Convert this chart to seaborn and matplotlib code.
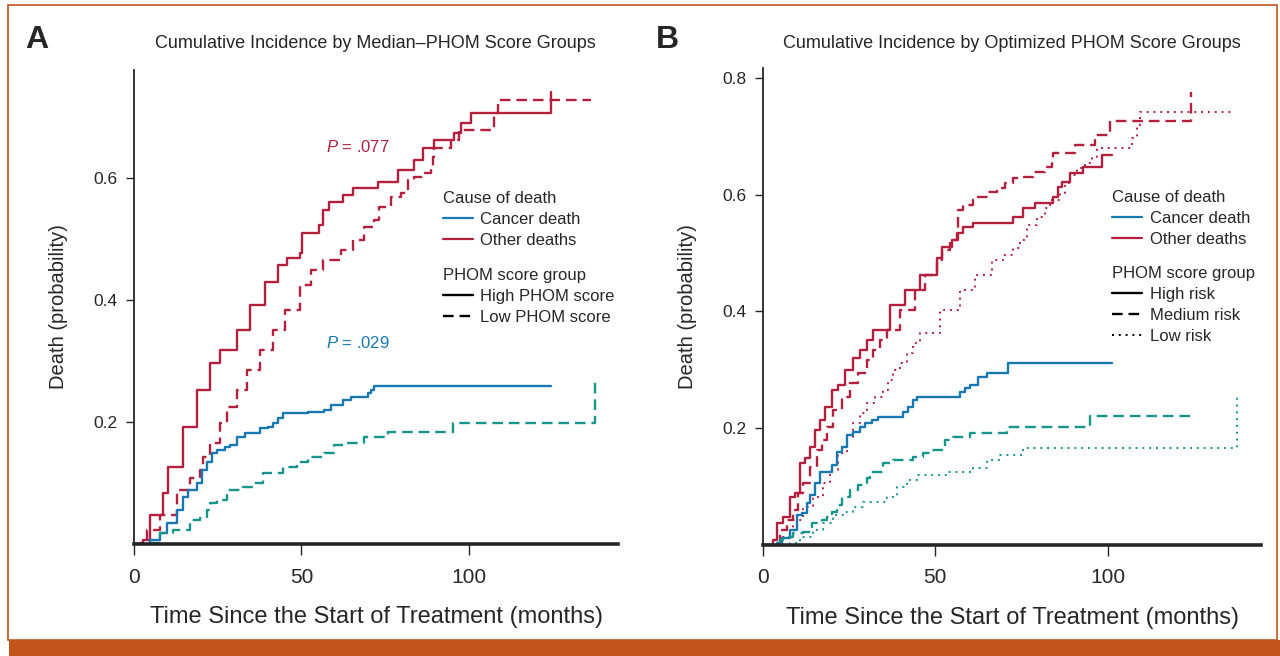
import matplotlib
matplotlib.use("Agg")
import matplotlib.pyplot as plt
from matplotlib.lines import Line2D
from matplotlib.patches import Rectangle
import seaborn as sns
import pandas as pd

sns.set_style("ticks")
plt.rcParams["font.family"] = ["Liberation Sans", "DejaVu Sans"]
plt.rcParams["mathtext.fontset"] = "custom"
plt.rcParams["mathtext.it"] = "Liberation Sans:italic"
plt.rcParams["mathtext.rm"] = "Liberation Sans"
NARROW = ["Liberation Sans Narrow", "Liberation Sans", "DejaVu Sans"]

RED = "#B41F3D"
BLUE = "#1778B3"
TEAL = "#16958A"
ORANGE = "#C4541E"

# ---- Panel A: median PHOM score groups ----
a_other_high_t = [0, 2.7, 4.8, 8.7, 10.2, 14.7, 18.9, 22.8, 25.7, 30.8, 34.7, 39.2, 43.1,
                  45.8, 49.7, 50.3, 55.1, 56.3, 58.1, 62.3, 65.3, 72.8, 78.7, 83.5, 86.2,
                  89.5, 95.5, 97.6, 100.6, 124.5, 124.6]
a_other_high_p = [0, 0.007, 0.048, 0.084, 0.126, 0.192, 0.252, 0.297, 0.318, 0.351, 0.392, 0.43, 0.457,
                  0.469, 0.477, 0.51, 0.523, 0.548, 0.561, 0.572, 0.584, 0.593, 0.613, 0.63, 0.649,
                  0.662, 0.674, 0.69, 0.707, 0.707, 0.741]

a_other_low_t = [0, 1.8, 3.9, 7.8, 12.9, 16.8, 19.8, 20.7, 22.8, 25.7, 27.8, 30.8, 33.8, 37.7,
                 41.6, 45.2, 49.7, 52.7, 56.3, 61.7, 65.3, 68.6, 71.6, 73.1, 76.6, 79.6, 81.7,
                 83.5, 86.5, 88.6, 89.2, 89.5, 94.6, 97.0, 107.5, 108.7, 136.5]
a_other_low_p = [0, 0.002, 0.023, 0.048, 0.089, 0.108, 0.121, 0.143, 0.166, 0.198, 0.225, 0.252, 0.285, 0.318,
                 0.351, 0.384, 0.425, 0.449, 0.466, 0.482, 0.498, 0.52, 0.531, 0.552, 0.569, 0.575, 0.597,
                 0.602, 0.608, 0.618, 0.634, 0.649, 0.662, 0.679, 0.707, 0.728, 0.728]

a_cancer_high_t = [0, 4.8, 7.8, 9.9, 12.9, 14.7, 16.2, 18.9, 20.4, 21.9, 23.4, 24.9, 27.2, 28.7,
                   30.8, 33.2, 37.7, 40.1, 41.6, 43.1, 44.6, 51.8, 56.6, 58.7, 62.3, 64.7, 69.8,
                   70.7, 71.6, 124.6]
a_cancer_high_p = [0, 0.007, 0.018, 0.034, 0.056, 0.077, 0.089, 0.1, 0.121, 0.134, 0.149, 0.154, 0.159, 0.162,
                   0.175, 0.182, 0.19, 0.192, 0.198, 0.207, 0.215, 0.216, 0.22, 0.228, 0.236, 0.241, 0.248,
                   0.252, 0.259, 0.259]

a_cancer_low_t = [0, 3.9, 7.8, 11.7, 16.8, 19.8, 21.9, 22.8, 24.9, 27.8, 32.6, 35.6, 38.6, 44.6,
                  48.8, 51.8, 56.6, 59.6, 62.6, 68.6, 75.7, 95.2, 137.4, 137.6]
a_cancer_low_p = [0, 0.002, 0.018, 0.023, 0.039, 0.043, 0.056, 0.067, 0.072, 0.089, 0.093, 0.1, 0.116, 0.126,
                  0.134, 0.143, 0.149, 0.162, 0.166, 0.175, 0.184, 0.198, 0.198, 0.274]

# ---- Panel B: optimized PHOM score groups ----
b_other_high_t = [0, 2.9, 4.1, 5.8, 7.8, 9.3, 10.7, 12.2, 13.6, 15.1, 16.5, 18.0, 20.0, 21.7, 23.8,
                  26.1, 28.1, 30.1, 31.9, 36.8, 41.2, 45.5, 50.4, 51.9, 54.8, 56.2, 58.0, 60.9,
                  72.5, 75.4, 78.8, 84.1, 85.5, 86.7, 89.0, 92.8, 98.3, 101.4]
b_other_high_p = [0, 0.008, 0.037, 0.047, 0.082, 0.088, 0.14, 0.149, 0.167, 0.197, 0.214, 0.236, 0.265, 0.274, 0.3,
                  0.32, 0.334, 0.351, 0.369, 0.411, 0.437, 0.463, 0.492, 0.511, 0.523, 0.535, 0.545, 0.552,
                  0.562, 0.578, 0.586, 0.597, 0.614, 0.622, 0.638, 0.648, 0.669, 0.669]

b_other_med_t = [0, 3.5, 4.9, 7.0, 8.7, 10.1, 11.6, 13.6, 15.7, 17.1, 18.6, 20.3, 22.9, 25.2, 27.5,
                 30.1, 31.9, 33.9, 35.9, 39.7, 44.1, 47.0, 50.4, 51.9, 54.2, 56.5, 58.0, 60.9, 62.3,
                 65.2, 67.8, 70.1, 72.5, 75.4, 78.3, 81.7, 83.8, 84.1, 90.4, 96.2, 100.6, 124.1, 124.3]
b_other_med_p = [0, 0.003, 0.025, 0.042, 0.059, 0.088, 0.106, 0.133, 0.162, 0.179, 0.202, 0.231, 0.253, 0.277, 0.295,
                 0.317, 0.334, 0.351, 0.369, 0.403, 0.437, 0.463, 0.489, 0.506, 0.523, 0.575, 0.583, 0.592, 0.597,
                 0.605, 0.612, 0.621, 0.629, 0.631, 0.64, 0.648, 0.664, 0.672, 0.686, 0.703, 0.727, 0.727, 0.777]

b_other_low_t = [0, 4.9, 8.7, 11.6, 14.5, 17.4, 19.4, 21.7, 24.3, 26.1, 28.1, 30.1, 32.5, 34.8, 36.2,
                 37.7, 39.7, 41.7, 43.5, 45.5, 51.3, 57.1, 61.4, 66.4, 69.6, 72.5, 74.5, 76.5, 79.4,
                 81.7, 83.2, 86.1, 87.5, 89.0, 91.0, 93.3, 95.4, 96.8, 107.2, 108.4, 109.3, 136.2]
b_other_low_p = [0, 0.013, 0.042, 0.064, 0.082, 0.106, 0.128, 0.157, 0.185, 0.209, 0.226, 0.243, 0.253, 0.265, 0.283,
                 0.3, 0.312, 0.329, 0.346, 0.363, 0.403, 0.437, 0.463, 0.489, 0.497, 0.509, 0.523, 0.549, 0.562,
                 0.578, 0.592, 0.603, 0.621, 0.634, 0.646, 0.655, 0.664, 0.681, 0.698, 0.717, 0.742, 0.742]

b_cancer_high_t = [0, 4.1, 5.5, 7.8, 9.9, 11.3, 12.8, 13.6, 15.1, 16.5, 20.0, 21.4, 22.9, 24.3, 26.1,
                   28.1, 29.6, 31.6, 33.3, 40.6, 42.0, 43.5, 44.6, 57.1, 58.6, 60.0, 62.3, 64.9, 71.0, 101.4]
b_cancer_high_p = [0, 0.003, 0.011, 0.025, 0.051, 0.054, 0.071, 0.085, 0.106, 0.124, 0.136, 0.159, 0.167, 0.188, 0.193,
                   0.202, 0.209, 0.214, 0.219, 0.228, 0.236, 0.248, 0.253, 0.262, 0.269, 0.274, 0.288, 0.295, 0.312, 0.312]

b_cancer_med_t = [0, 4.9, 5.8, 8.7, 11.6, 14.2, 17.1, 18.6, 20.0, 21.4, 22.9, 25.2, 27.5, 30.1, 31.0,
                  34.8, 37.7, 43.5, 46.4, 49.0, 51.9, 52.8, 55.1, 60.0, 70.7, 94.8, 123.8]
b_cancer_med_p = [0, 0.008, 0.013, 0.02, 0.021, 0.037, 0.042, 0.047, 0.056, 0.068, 0.082, 0.094, 0.102, 0.114, 0.124,
                  0.14, 0.145, 0.15, 0.157, 0.162, 0.167, 0.179, 0.185, 0.192, 0.202, 0.221, 0.221]

b_cancer_low_t = [0, 7.8, 10.7, 14.5, 17.4, 20.3, 23.2, 26.1, 29.0, 35.9, 38.8, 41.7, 44.6, 53.3,
                  60.9, 64.9, 68.7, 75.4, 137.4, 137.6]
b_cancer_low_p = [0, 0.003, 0.013, 0.025, 0.037, 0.051, 0.056, 0.064, 0.073, 0.082, 0.099, 0.111, 0.119, 0.124,
                  0.131, 0.145, 0.154, 0.166, 0.166, 0.253]

SOLID = dict(lw=1.7, linestyle="-")
DASHED = dict(lw=1.7, linestyle=(0, (4.5, 2.5)))
DOTTED = dict(lw=1.4, linestyle=(0, (1, 2.5)))


def step(ax, t, p, color, style):
    df = pd.DataFrame({"time": t, "prob": p})
    sns.lineplot(data=df, x="time", y="prob", ax=ax, color=color,
                 drawstyle="steps-post", estimator=None, sort=False, **style)


def style_axis(ax, ymax, yticks):
    ax.set_xlim(0, 144.5)
    ax.set_ylim(0, ymax)
    ax.set_xticks([0, 50, 100])
    ax.set_yticks(yticks)
    ax.set_yticklabels([f"{v:.1f}" for v in yticks], fontsize=12.5)
    for lab in ax.get_xticklabels():
        lab.set_fontfamily(NARROW)
        lab.set_fontsize(15)
    sns.despine(ax=ax)
    ax.spines["bottom"].set_linewidth(2.6)
    ax.spines["left"].set_linewidth(1.3)
    ax.tick_params(axis="x", length=8, width=1, pad=9)
    ax.tick_params(axis="y", length=6, width=1, pad=6)
    ax.set_xlabel("Time Since the Start of Treatment (months)", fontsize=17,
                  family=NARROW, labelpad=14)
    ax.set_ylabel("Death (probability)", fontsize=14.5, labelpad=18)


def add_legends(ax, labels, styles, x, y1, y2):
    kw = dict(loc="upper left", frameon=False, alignment="left", handlelength=1.8,
              fontsize=12, title_fontsize=12, borderaxespad=0, borderpad=0,
              labelspacing=0.35, handletextpad=0.45)
    h1 = [Line2D([], [], color=BLUE, lw=1.6), Line2D([], [], color=RED, lw=1.6)]
    leg1 = ax.legend(h1, ["Cancer death", "Other deaths"], title="Cause of death",
                     bbox_to_anchor=(x, y1), **kw)
    ax.add_artist(leg1)
    h2 = [Line2D([], [], color="black", **s) for s in styles]
    ax.legend(h2, labels, title="PHOM score group", bbox_to_anchor=(x, y2), **kw)


fig = plt.figure(figsize=(12.8, 6.56), dpi=100)
ax_a = fig.add_axes([134 / 1280, 1 - 544 / 656, 484 / 1280, 474 / 656])
ax_b = fig.add_axes([763 / 1280, 1 - 544.5 / 656, 498 / 1280, 476.5 / 656])

step(ax_a, a_other_high_t, a_other_high_p, RED, SOLID)
step(ax_a, a_other_low_t, a_other_low_p, RED, DASHED)
step(ax_a, a_cancer_high_t, a_cancer_high_p, BLUE, SOLID)
step(ax_a, a_cancer_low_t, a_cancer_low_p, TEAL, DASHED)
style_axis(ax_a, 0.777, [0.2, 0.4, 0.6])
ax_a.text(57.2, 0.651, r"$P$ = .077", color=RED, fontsize=12, va="center")
ax_a.text(57.2, 0.33, r"$P$ = .029", color=BLUE, fontsize=12, va="center")
add_legends(ax_a, ["High PHOM score", "Low PHOM score"], [SOLID, DASHED], 0.638, 0.745, 0.582)

step(ax_b, b_other_high_t, b_other_high_p, RED, SOLID)
step(ax_b, b_other_med_t, b_other_med_p, RED, DASHED)
step(ax_b, b_other_low_t, b_other_low_p, RED, DOTTED)
step(ax_b, b_cancer_high_t, b_cancer_high_p, BLUE, SOLID)
step(ax_b, b_cancer_med_t, b_cancer_med_p, TEAL, DASHED)
step(ax_b, b_cancer_low_t, b_cancer_low_p, TEAL, DOTTED)
style_axis(ax_b, 0.818, [0.2, 0.4, 0.6, 0.8])
add_legends(ax_b, ["High risk", "Medium risk", "Low risk"], [SOLID, DASHED, DOTTED], 0.701, 0.744, 0.584)

# titles and panel letters
fig.text(375 / 1280, 1 - 43 / 656, "Cumulative Incidence by Median\u2013PHOM Score Groups",
         ha="center", va="center", fontsize=13)
fig.text(1012 / 1280, 1 - 43 / 656, "Cumulative Incidence by Optimized PHOM Score Groups",
         ha="center", va="center", fontsize=13)
fig.text(37 / 1280, 1 - 40 / 656, "A", ha="center", va="center", fontsize=23, weight="bold")
fig.text(667 / 1280, 1 - 40 / 656, "B", ha="center", va="center", fontsize=23, weight="bold")

# orange frame and footer bar
fig.add_artist(Rectangle((8 / 1280, 16 / 656), 1269 / 1280, 635 / 656, transform=fig.transFigure,
                         fill=False, ec=ORANGE, lw=1.2))
fig.add_artist(Rectangle((9 / 1280, 0), 1, 16 / 656, transform=fig.transFigure,
                         fc=ORANGE, ec="none"))

fig.savefig("out.png", dpi=100)
